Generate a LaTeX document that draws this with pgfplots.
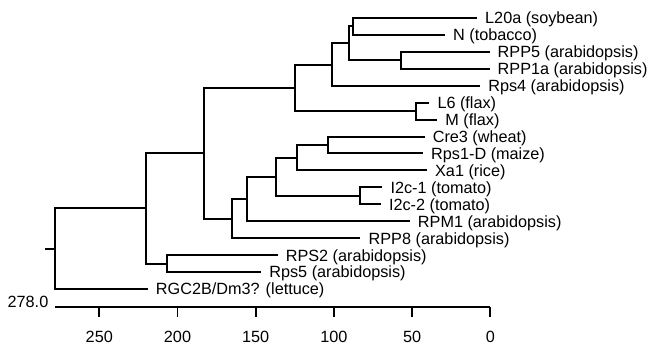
\documentclass[border=0pt]{standalone}
\usepackage{fontspec}
\setmainfont{Liberation Sans}
\usepackage{pgfplots}
\pgfplotsset{compat=1.18}
\newcommand{\lbl}{\fontsize{16.3}{18}\selectfont}
\begin{document}
\begin{tikzpicture}
\path[use as bounding box] (-55.5bp,-40bp) rectangle (597.5bp,307bp);
\begin{axis}[
  scale only axis, width=434.8bp, height=297.5bp,
  x dir=reverse, xmin=0, xmax=278, ymin=-0.063, ymax=17.5,
  axis x line*=bottom, axis y line=none,
  x axis line style={-, line width=1.8bp},
  xtick={0,50,100,150,200,250},
  xtick align=outside, major tick length=10bp,
  every tick/.style={black, line width=1.8bp},
  xticklabel style={font=\lbl, anchor=base, inner sep=0pt, yshift=-25bp},
  /pgf/number format/assume math mode=true,
  clip=false,
]
\addplot[black, line width=2bp, unbounded coords=jump, mark=none] coordinates {
(8.5,17)(88,17)(88,16)(29,16) (0,nan)
(0.5,15)(57,15)(57,14)(0.5,14) (0,nan)
(88,16.5)(90.5,16.5)(90.5,14.5)(57,14.5) (0,nan)
(90.5,15.5)(101.5,15.5)(101.5,13)(6.5,13) (0,nan)
(39,12)(47.5,12)(47.5,11)(34,11) (0,nan)
(101.5,14.25)(125,14.25)(125,11.5)(47.5,11.5) (0,nan)
(42,10)(104,10)(104,9)(43,9) (0,nan)
(104,9.5)(123.4,9.5)(123.4,8)(40.5,8) (0,nan)
(69,7)(83,7)(83,6)(70,6) (0,nan)
(123.4,8.75)(137,8.75)(137,6.5)(83,6.5) (0,nan)
(137,7.625)(155.4,7.625)(155.4,5)(51.5,5) (0,nan)
(155.4,6.3125)(165,6.3125)(165,4)(83,4) (0,nan)
(125,12.875)(183,12.875)(183,5.15625)(165,5.15625) (0,nan)
(136,3)(206.5,3)(206.5,2)(146.5,2) (0,nan)
(183,9.015625)(220,9.015625)(220,2.5)(206.5,2.5) (0,nan)
(220,5.7578)(278,5.7578)(278,1)(219,1) (0,nan)
(278,3.3789)(284.4,3.3789)
};
\tikzset{leaf/.style={anchor=base west, inner sep=0pt, xshift=8bp, yshift=-5.9bp, font=\lbl}}
\node[leaf] at (axis cs:8.5,17) {L20a (soybean)};
\node[leaf] at (axis cs:29,16) {N (tobacco)};
\node[leaf] at (axis cs:0.5,15) {RPP5 (arabidopsis)};
\node[leaf] at (axis cs:0.5,14) {RPP1a (arabidopsis)};
\node[leaf] at (axis cs:6.5,13) {Rps4 (arabidopsis)};
\node[leaf] at (axis cs:39,12) {L6 (flax)};
\node[leaf] at (axis cs:34,11) {M (flax)};
\node[leaf] at (axis cs:42,10) {Cre3 (wheat)};
\node[leaf] at (axis cs:43,9) {Rps1-D (maize)};
\node[leaf] at (axis cs:40.5,8) {Xa1 (rice)};
\node[leaf] at (axis cs:69,7) {I2c-1 (tomato)};
\node[leaf] at (axis cs:70,6) {I2c-2 (tomato)};
\node[leaf] at (axis cs:51.5,5) {RPM1 (arabidopsis)};
\node[leaf] at (axis cs:83,4) {RPP8 (arabidopsis)};
\node[leaf] at (axis cs:136,3) {RPS2 (arabidopsis)};
\node[leaf] at (axis cs:146.5,2) {Rps5 (arabidopsis)};
\node[leaf] at (axis cs:219,1) {RGC2B/Dm3? (lettuce)};
\node[anchor=base east, inner sep=0pt, xshift=-7bp, font=\lbl] at (axis cs:278,-0.063) {278.0};
\end{axis}
\end{tikzpicture}
\end{document}
